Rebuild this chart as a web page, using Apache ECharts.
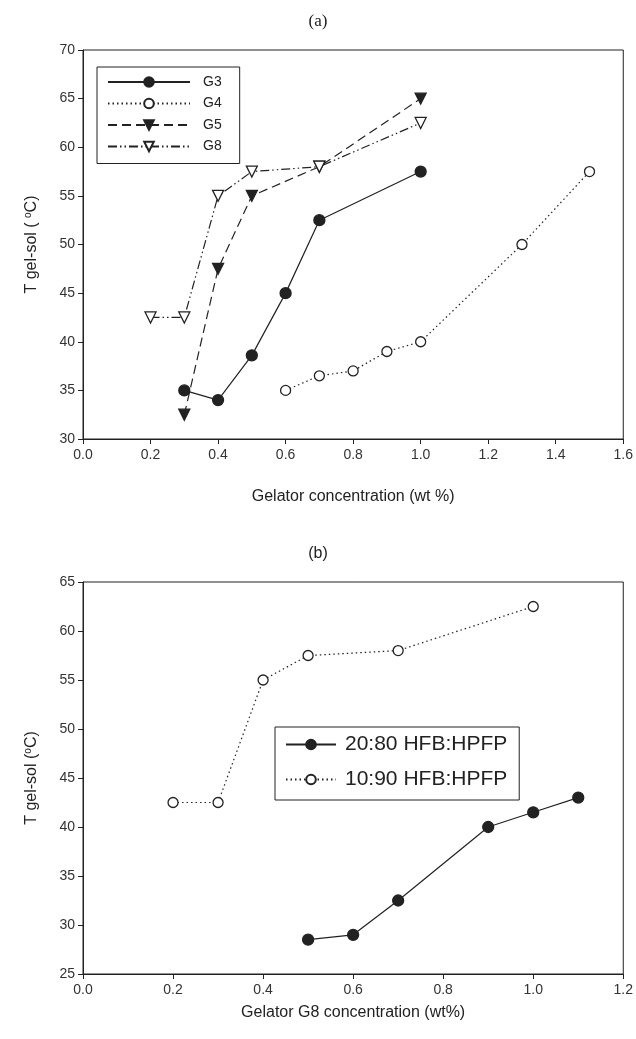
<!DOCTYPE html>
<html><head><meta charset="utf-8">
<script src="https://cdn.jsdelivr.net/npm/echarts@6/dist/echarts.min.js"></script>
<style>html,body{margin:0;padding:0;background:#fff}#c{width:636px;height:1039px}</style>
</head><body><div id="c"></div>
<script>
// Panel (a)
const g3X = [0.3, 0.4, 0.5, 0.6, 0.7, 1.0];
const g3Y = [35, 34, 38.6, 45, 52.5, 57.5];
const g4X = [0.6, 0.7, 0.8, 0.9, 1.0, 1.3, 1.5];
const g4Y = [35, 36.5, 37, 39, 40, 50, 57.5];
const g5X = [0.3, 0.4, 0.5, 0.7, 1.0];
const g5Y = [32.5, 47.5, 55, 58, 65];
const g8X = [0.2, 0.3, 0.4, 0.5, 0.7, 1.0];
const g8Y = [42.5, 42.5, 55, 57.5, 58, 62.5];
// Panel (b)
const b2080X = [0.5, 0.6, 0.7, 0.9, 1.0, 1.1];
const b2080Y = [28.5, 29, 32.5, 40, 41.5, 43];
const b1090X = [0.2, 0.3, 0.4, 0.5, 0.7, 1.0];
const b1090Y = [42.5, 42.5, 55, 57.5, 58, 62.5];
const names = ['G3', 'G4', 'G5', 'G8', '20:80 HFB:HPFP', '10:90 HFB:HPFP'];
const titles = ['(a)', '(b)'];
const xNames = ['Gelator concentration (wt %)', 'Gelator G8 concentration (wt%)'];

const zip = (xs, ys) => xs.map((x, i) => [x, ys[i]]);
const C = '#222';
const F = 'Liberation Sans';
const chart = echarts.init(document.getElementById('c'), null, {renderer: 'canvas'});

function xAxis(gi, max, name, gap) {
  return {
    type: 'value', gridIndex: gi, min: 0, max: max, interval: 0.2,
    name: name, nameLocation: 'middle', nameGap: gap,
    nameTextStyle: {fontFamily: F, fontSize: 16, color: C},
    axisLine: {show: true, lineStyle: {color: C, width: 1}},
    axisTick: {show: true, inside: false, length: 5, lineStyle: {color: C}},
    axisLabel: {fontFamily: F, fontSize: 14, color: '#333', margin: 9,
      formatter: v => v.toFixed(1)},
    splitLine: {show: false}
  };
}
function yAxis(gi, min, max, gap, name) {
  return {
    type: 'value', gridIndex: gi, min: min, max: max, interval: 5,
    name: name, nameLocation: 'middle', nameGap: gap, nameRotate: 90,
    nameTextStyle: {fontFamily: F, fontSize: 16, color: C,
      rich: {
        s: {fontFamily: F, fontSize: 16, color: C, padding: [0, 0, 0, 0]},
        sup: {fontFamily: F, fontSize: 10, color: C, verticalAlign: 'top', padding: [0, 0, 8, 0]}
      }},
    axisLine: {show: true, lineStyle: {color: C, width: 1}},
    axisTick: {show: true, inside: false, length: 5, lineStyle: {color: C}},
    axisLabel: {fontFamily: F, fontSize: 14, color: '#333', margin: 8},
    splitLine: {show: false}
  };
}
const tri = 'path://M0,0 L10,0 L5,9 Z';
function ser(name, xi, data, dash, symbol, filled, size, z) {
  return {
    name: name, type: 'line', xAxisIndex: xi, yAxisIndex: xi, data: data,
    symbol: symbol, symbolSize: size, showAllSymbol: true, z: z || 2,
    lineStyle: {color: C, width: 1.2, type: dash},
    itemStyle: {color: filled ? C : '#fff', borderColor: C, borderWidth: 1.3, opacity: 1},
    emphasis: {disabled: true}, animation: false
  };
}

chart.setOption({
  backgroundColor: '#fff',
  animation: false,
  title: [
    {text: titles[0], left: 'center', top: 8, textStyle: {fontFamily: 'Liberation Serif', fontSize: 17, fontWeight: 'normal', color: C}},
    {text: titles[1], left: 'center', top: 541, textStyle: {fontFamily: F, fontSize: 16, fontWeight: 'normal', color: C}}
  ],
  grid: [
    {left: 83, right: 10, top: 50, height: 389, show: true, borderColor: C, borderWidth: 1},
    {left: 83, right: 6, top: 582, height: 392, show: true, borderColor: C, borderWidth: 1}
  ],
  xAxis: [xAxis(0, 1.6, xNames[0], 50), xAxis(1, 1.2, xNames[1], 31)],
  yAxis: [
    yAxis(0, 30, 70, 42, '{s|T gel-sol ( }{sup|o}{s|C)}'),
    yAxis(1, 25, 65, 42, '{s|T gel-sol (}{sup|o}{s|C)}')
  ],
  legend: [
    {data: names.slice(0, 4), left: 97, top: 67, orient: 'vertical', itemWidth: 82, itemHeight: 12, itemGap: 7.5,
     padding: [8, 18, 10, 10], borderColor: C, borderWidth: 1, backgroundColor: '#fff',
     textStyle: {fontFamily: F, fontSize: 14, color: C, padding: [0, 0, 0, 8]}},
    {data: names.slice(4), left: 275, top: 727, orient: 'vertical', itemWidth: 50, itemHeight: 12, itemGap: 14,
     padding: [7, 12, 10, 10], borderColor: C, borderWidth: 1, backgroundColor: '#fff',
     textStyle: {fontFamily: F, fontSize: 21, color: C, padding: [0, 0, 0, 4]}}
  ],
  series: [
    ser(names[0], 0, zip(g3X, g3Y), 'solid', 'circle', true, 11, 3),
    ser(names[1], 0, zip(g4X, g4Y), [1.5, 3], 'circle', false, 10, 3),
    ser(names[2], 0, zip(g5X, g5Y), [9, 5], tri, true, 11, 2),
    ser(names[3], 0, zip(g8X, g8Y), [9, 3, 1.5, 3, 1.5, 3], tri, false, 11, 4),
    ser(names[4], 1, zip(b2080X, b2080Y), 'solid', 'circle', true, 11, 3),
    ser(names[5], 1, zip(b1090X, b1090Y), [1.5, 3], 'circle', false, 10, 3)
  ]
});
</script></body></html>
